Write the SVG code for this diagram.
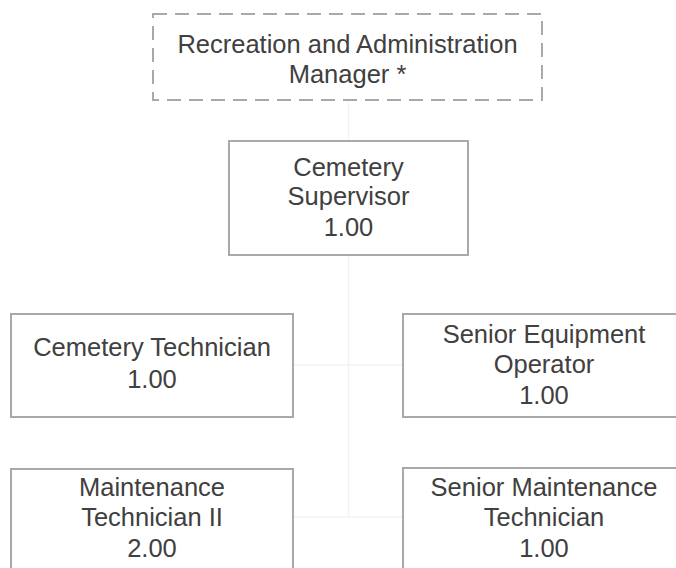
<svg xmlns="http://www.w3.org/2000/svg" width="676" height="568" viewBox="0 0 676 568">
<style>
.box{fill:#ffffff;stroke:#a9a9a9;stroke-width:2}
.dash{fill:#ffffff;stroke:#a9a9a9;stroke-width:2;stroke-dasharray:14 8}
.t{font-family:"Liberation Sans",Arial,sans-serif;font-size:25.5px;fill:#404040;text-anchor:middle}
.c{stroke:#f2f2f2;stroke-width:1.5;fill:none}
</style>
<rect width="676" height="568" fill="#ffffff"/>
<g id="connectors">
<line class="c" x1="348.5" y1="100" x2="348.5" y2="141"/>
<line class="c" x1="348.5" y1="255" x2="348.5" y2="517"/>
<line class="c" x1="293" y1="365" x2="403" y2="365"/>
<line class="c" x1="293" y1="517" x2="403" y2="517"/>
</g>
<g id="manager">
<rect class="dash" x="153" y="14" width="389" height="86"/>
<text class="t" x="347.5" y="53">Recreation and Administration</text>
<text class="t" x="347.5" y="83">Manager *</text>
</g>
<g id="supervisor">
<rect class="box" x="229" y="141" width="239" height="114"/>
<text class="t" x="348.5" y="176">Cemetery</text>
<text class="t" x="348.5" y="205">Supervisor</text>
<text class="t" x="348.5" y="236">1.00</text>
</g>
<g id="cemetery-technician">
<rect class="box" x="11" y="314" width="282" height="103"/>
<text class="t" x="152" y="356">Cemetery Technician</text>
<text class="t" x="152" y="388">1.00</text>
</g>
<g id="senior-equipment-operator">
<rect class="box" x="403" y="314" width="282" height="103"/>
<text class="t" x="544" y="343">Senior Equipment</text>
<text class="t" x="544" y="373">Operator</text>
<text class="t" x="544" y="404">1.00</text>
</g>
<g id="maintenance-technician-ii">
<rect class="box" x="11" y="469" width="282" height="110"/>
<text class="t" x="152" y="496">Maintenance</text>
<text class="t" x="152" y="526">Technician II</text>
<text class="t" x="152" y="557">2.00</text>
</g>
<g id="senior-maintenance-technician">
<rect class="box" x="403" y="468" width="282" height="111"/>
<text class="t" x="544" y="496">Senior Maintenance</text>
<text class="t" x="544" y="526">Technician</text>
<text class="t" x="544" y="557">1.00</text>
</g>
</svg>
